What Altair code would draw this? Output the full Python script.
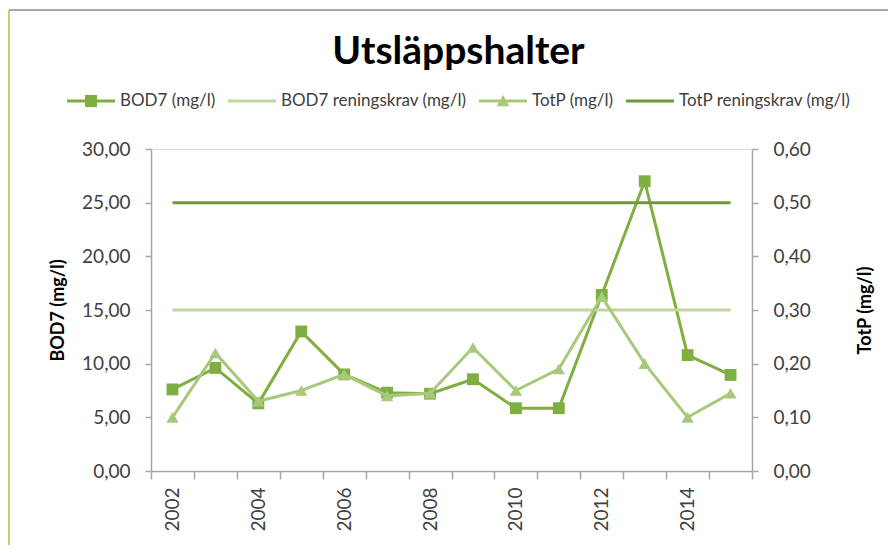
import altair as alt
import pandas as pd

years = ["2002", "2003", "2004", "2005", "2006", "2007", "2008",
         "2009", "2010", "2011", "2012", "2013", "2014", "2015"]
bod7 = [7.6, 9.6, 6.3, 13.0, 9.0, 7.3, 7.2, 8.55, 5.85, 5.85, 16.4, 27.0, 10.8, 8.95]
bod7_krav = [15.0, 15.0, 15.0, 15.0, 15.0, 15.0, 15.0, 15.0, 15.0, 15.0, 15.0, 15.0, 15.0, 15.0]
totp = [0.10, 0.22, 0.13, 0.15, 0.18, 0.14, 0.145, 0.23, 0.15, 0.19, 0.325, 0.20, 0.10, 0.145]
totp_krav = [0.50, 0.50, 0.50, 0.50, 0.50, 0.50, 0.50, 0.50, 0.50, 0.50, 0.50, 0.50, 0.50, 0.50]

series_names = ["BOD7 (mg/l)", "BOD7 reningskrav (mg/l)", "TotP (mg/l)", "TotP reningskrav (mg/l)"]
series_colors = ["#7fae42", "#c0d7a0", "#a8c97c", "#6f9a38"]
legend_paths = [
    "M-1,-0.0625H1V0.0625H-1Z M-0.25,-0.25H0.25V0.25H-0.25Z",
    "M-1,-0.0625H1V0.0625H-1Z",
    "M-1,-0.0625H1V0.0625H-1Z M-0.26,0.22L0,-0.25L0.26,0.22Z",
    "M-1,-0.0625H1V0.0625H-1Z",
]

df = pd.DataFrame({"year": years, "bod7": bod7, "bod7_krav": bod7_krav,
                   "totp": totp, "totp_krav": totp_krav})

FONT = "Lato"
AXIS_GRAY = "#a6a6a6"
LABEL_COLOR = "#404040"

x_enc = alt.X(
    "year:O",
    scale=alt.Scale(type="band", domain=years, paddingInner=0, paddingOuter=0),
    axis=alt.Axis(
        title=None, tickBand="extent", labelAngle=-90, labelOverlap=False,
        labelExpr="toNumber(datum.value) % 2 == 0 ? datum.label : ''",
        labelFontSize=19, labelColor=LABEL_COLOR, labelFont=FONT,
        domainColor=AXIS_GRAY, tickColor=AXIS_GRAY, tickSize=8,
        labelPadding=8, domainWidth=1.5, tickWidth=1.5, grid=False,
    ),
)

fmt = "replace(format(datum.value, '.2f'), '.', ',')"

y_left = alt.Y(
    "bod7:Q",
    scale=alt.Scale(domain=[0, 30], nice=False, zero=True),
    axis=alt.Axis(
        title="BOD7 (mg/l)", values=[0, 5, 10, 15, 20, 25, 30], labelExpr=fmt,
        labelFontSize=19, labelColor=LABEL_COLOR, labelFont=FONT,
        titleFontSize=18, titleFont=FONT, titleFontWeight="bold", titleColor="#000000",
        titlePadding=14, domainColor=AXIS_GRAY, tickColor=AXIS_GRAY, tickSize=6,
        labelPadding=15, domainWidth=1.5, tickWidth=1.5, grid=False,
    ),
)

y_right_axis = alt.Axis(
    title="TotP (mg/l)", orient="right", values=[0, 0.1, 0.2, 0.3, 0.4, 0.5, 0.6],
    labelExpr=fmt, labelFontSize=19, labelColor=LABEL_COLOR, labelFont=FONT,
    titleFontSize=18, titleFont=FONT, titleFontWeight="bold", titleColor="#000000",
    titleAngle=270, titlePadding=64, domainColor=AXIS_GRAY, tickColor=AXIS_GRAY, tickSize=6,
    labelPadding=15, domainWidth=1.5, tickWidth=1.5, grid=False,
)
y_right_scale = alt.Scale(domain=[0, 0.6], nice=False, zero=True)

base = alt.Chart(df)

bod_krav_line = base.mark_line(color=series_colors[1], strokeWidth=3).encode(
    x=x_enc, y=alt.Y("bod7_krav:Q", scale=alt.Scale(domain=[0, 30], nice=False)))
bod_line = base.mark_line(color=series_colors[0], strokeWidth=3).encode(x=x_enc, y=y_left)
bod_pts = base.mark_point(shape="square", filled=True, size=140, opacity=1,
                          color=series_colors[0]).encode(x=x_enc, y="bod7:Q")

left = alt.layer(bod_line, bod_pts, bod_krav_line)

totp_line = base.mark_line(color=series_colors[2], strokeWidth=3).encode(
    x=x_enc, y=alt.Y("totp:Q", scale=y_right_scale, axis=y_right_axis))
totp_pts = base.mark_point(shape="triangle-up", filled=True, size=150, opacity=1,
                           color=series_colors[2]).encode(x=x_enc, y="totp:Q")
totp_krav_line = base.mark_line(color=series_colors[3], strokeWidth=3).encode(
    x=x_enc, y="totp_krav:Q")

right = alt.layer(totp_line, totp_pts, totp_krav_line)

leg = alt.Legend(
    title=None, orient="none", direction="horizontal", columns=4,
    legendX=-84, legendY=-72, symbolSize=2304, symbolOpacity=1, symbolStrokeWidth=0,
    labelFontSize=17, labelFont=FONT, labelColor=LABEL_COLOR, labelOffset=5,
    labelLimit=400, columnPadding=12,
)
legend_layer = alt.Chart(pd.DataFrame({"series": series_names})).mark_point(
    filled=True, opacity=0).encode(
    color=alt.Color("series:N", scale=alt.Scale(domain=series_names, range=series_colors), legend=leg),
    shape=alt.Shape("series:N", scale=alt.Scale(domain=series_names, range=legend_paths), legend=leg),
)

frame_df = pd.DataFrame({"k": [0]})
frame_left = alt.Chart(frame_df).mark_rule(color="#c5d26c", strokeWidth=2).encode(
    x=alt.value(-142), y=alt.value(-139), y2=alt.value(420))
frame_top = alt.Chart(frame_df).mark_rule(color="#a9a9a9", strokeWidth=2).encode(
    x=alt.value(-142), x2=alt.value(760), y=alt.value(-139))

chart = alt.layer(left, right, legend_layer, frame_left, frame_top).resolve_scale(
    y="independent"
).properties(
    width=601, height=322,
    autosize=alt.AutoSizeParams(type="none"),
    padding={"left": 143, "top": 141, "right": 136, "bottom": 74},
    title=alt.TitleParams("Utsläppshalter", fontSize=39, font=FONT, fontWeight="bold",
                          color="#000000", anchor="middle", dx=7, dy=67),
).configure_view(stroke=None).configure(font=FONT)

chart.save("out.html", embed_options={"renderer": "svg", "actions": False})
